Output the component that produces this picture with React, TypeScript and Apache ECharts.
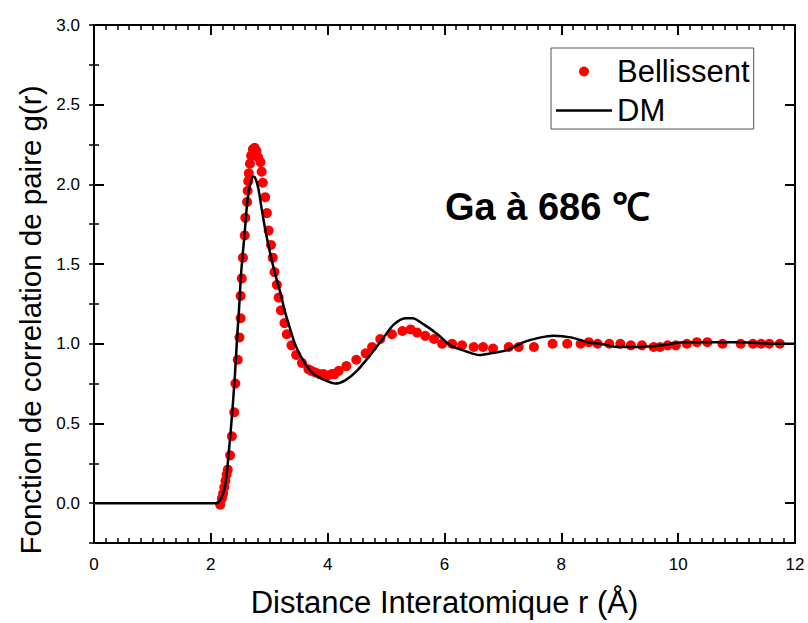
import React, { useEffect, useRef } from "react";
import * as echarts from "echarts";

const bellissentR = [2.16, 2.19, 2.21, 2.23, 2.25, 2.27, 2.29, 2.33, 2.36, 2.40, 2.42, 2.46, 2.49, 2.51, 2.51, 2.53, 2.55, 2.58, 2.59, 2.62, 2.63, 2.64, 2.65, 2.67, 2.69, 2.72, 2.75, 2.78, 2.81, 2.85, 2.87, 2.89, 2.93, 2.96, 2.99, 3.03, 3.06, 3.09, 3.13, 3.16, 3.20, 3.26, 3.30, 3.38, 3.46, 3.56, 3.67, 3.72, 3.79, 3.86, 3.93, 4.00, 4.07, 4.12, 4.19, 4.32, 4.49, 4.65, 4.76, 4.90, 5.10, 5.28, 5.42, 5.53, 5.67, 5.82, 5.96, 6.13, 6.30, 6.50, 6.66, 6.83, 7.10, 7.27, 7.53, 7.85, 8.10, 8.33, 8.47, 8.62, 8.82, 9.01, 9.19, 9.38, 9.58, 9.69, 9.82, 9.96, 10.15, 10.32, 10.50, 10.76, 11.07, 11.28, 11.42, 11.56, 11.74];
const bellissentG = [-0.01, 0.03, 0.06, 0.10, 0.14, 0.18, 0.21, 0.30, 0.42, 0.57, 0.75, 0.90, 1.04, 1.16, 1.30, 1.41, 1.54, 1.68, 1.79, 1.89, 1.96, 2.02, 2.07, 2.13, 2.18, 2.22, 2.23, 2.21, 2.17, 2.14, 2.08, 2.01, 1.92, 1.82, 1.71, 1.62, 1.54, 1.45, 1.37, 1.29, 1.21, 1.13, 1.06, 0.99, 0.93, 0.88, 0.84, 0.83, 0.82, 0.81, 0.81, 0.80, 0.81, 0.81, 0.83, 0.86, 0.90, 0.94, 0.98, 1.03, 1.06, 1.08, 1.09, 1.07, 1.05, 1.03, 1.00, 1.00, 0.99, 0.98, 0.98, 0.97, 0.98, 0.98, 0.98, 1.00, 1.00, 1.00, 1.01, 1.00, 1.00, 1.00, 0.99, 0.99, 0.98, 0.98, 0.99, 0.99, 1.00, 1.01, 1.01, 1.00, 1.00, 1.00, 1.00, 1.00, 1.00];

const dmR = [0, 2.10, 2.16, 2.20, 2.25, 2.30, 2.36, 2.41, 2.45, 2.48, 2.52, 2.58, 2.63, 2.68, 2.72, 2.76, 2.81, 2.86, 2.93, 3.02, 3.10, 3.19, 3.27, 3.36, 3.45, 3.59, 3.76, 3.96, 4.13, 4.30, 4.50, 4.73, 4.96, 5.13, 5.33, 5.45, 5.65, 5.88, 6.10, 6.39, 6.59, 6.79, 7.07, 7.36, 7.65, 7.87, 8.16, 8.45, 8.67, 8.96, 9.36, 9.70, 10.10, 10.50, 11.07, 11.65, 12.0];
const dmG = [0, 0, 0.02, 0.05, 0.12, 0.29, 0.54, 0.79, 1.04, 1.20, 1.45, 1.70, 1.91, 2.01, 2.05, 2.04, 1.98, 1.87, 1.72, 1.56, 1.44, 1.32, 1.20, 1.09, 0.99, 0.89, 0.81, 0.77, 0.75, 0.77, 0.83, 0.93, 1.04, 1.12, 1.16, 1.16, 1.12, 1.06, 0.99, 0.95, 0.93, 0.94, 0.96, 1.01, 1.04, 1.05, 1.04, 1.01, 1.00, 0.98, 0.98, 0.99, 1.01, 1.01, 1.01, 1.00, 1.00];

const xTitle = "Distance Interatomique r (Å)";
const yTitle = "Fonction de correlation de paire g(r)";
const annotation = "Ga à 686 ℃";
const seriesNames = ["Bellissent", "DM"];

const FONT = "'Liberation Sans', Arial, sans-serif";

export default function App() {
  const ref = useRef<HTMLDivElement>(null);
  useEffect(() => {
    if (!ref.current) return;
    const chart = echarts.init(ref.current, null, { renderer: "svg" });
    const axisCommon = {
      type: "value",
      splitLine: { show: false },
    };
    const xBase = {
      ...axisCommon,
      min: 0,
      max: 12,
      interval: 2,
      axisLine: { show: true, onZero: false, lineStyle: { color: "#000", width: 2 } },
      axisTick: { show: true, inside: true, length: 10, lineStyle: { color: "#000", width: 2 } },
      minorTick: { show: true, splitNumber: 10, length: 5, lineStyle: { color: "#000", width: 1.5 } },
    };
    const yMajor = {
      ...axisCommon,
      min: -0.25,
      max: 3,
      splitNumber: 6,
      axisLine: { show: true, onZero: false, lineStyle: { color: "#000", width: 2 } },
      axisTick: { show: true, inside: true, length: 10, lineStyle: { color: "#000", width: 2 } },
    };
    const yMinor = {
      ...axisCommon,
      min: -0.25,
      max: 3,
      interval: 0.25,
      axisLine: { show: false },
      axisLabel: { show: false },
      axisTick: { show: true, inside: true, length: 5, lineStyle: { color: "#000", width: 1.5 } },
    };
    chart.setOption({
      animation: false,
      backgroundColor: "#fff",
      textStyle: { fontFamily: FONT },
      grid: { left: 94, right: 13, top: 25, bottom: 77, containLabel: false },
      legend: {
        orient: "vertical",
        left: 551,
        top: 48,
        padding: [8, 4, 3, 5],
        itemWidth: 56,
        itemHeight: 10,
        itemGap: 8,
        borderColor: "#555",
        borderWidth: 1,
        textStyle: { fontSize: 31, color: "#000", fontFamily: FONT, lineHeight: 30 },
        data: [
          { name: seriesNames[0], icon: "circle" },
          { name: seriesNames[1], icon: "path://M0,0 L56,0 L56,2.5 L0,2.5 Z" },
        ],
      },
      xAxis: [
        {
          ...xBase,
          position: "bottom",
          axisLabel: { show: true, fontSize: 17, color: "#000", margin: 13, fontFamily: FONT },
          name: xTitle,
          nameLocation: "middle",
          nameGap: 44,
          nameTextStyle: { fontSize: 31, color: "#000", fontFamily: FONT },
        },
        {
          ...xBase,
          position: "top",
          axisLabel: { show: false },
        },
      ],
      yAxis: [
        {
          ...yMajor,
          position: "left",
          axisLabel: {
            show: true,
            fontSize: 17,
            color: "#000",
            margin: 14,
            fontFamily: FONT,
            formatter: (v: number) => (v < -0.01 ? "" : v.toFixed(1)),
          },
          name: yTitle,
          nameLocation: "middle",
          nameGap: 48,
          nameTextStyle: { fontSize: 29.5, color: "#000", fontFamily: FONT, padding: [0, 72, 0, 0] },
        },
        { ...yMinor, position: "left" },
        { ...yMajor, position: "right", axisLabel: { show: false } },
        { ...yMinor, position: "right" },
      ],
      graphic: [
        {
          type: "text",
          left: 445,
          top: 188,
          style: {
            text: annotation,
            fill: "#000",
            font: `bold 38px ${FONT}`,
          },
        },
      ],
      series: [
        {
          name: seriesNames[0],
          type: "scatter",
          xAxisIndex: 0,
          yAxisIndex: 0,
          symbol: "circle",
          symbolSize: 10,
          itemStyle: { color: "#ff0000", opacity: 1 },
          data: bellissentR.map((r, i) => [r, bellissentG[i]]),
          z: 2,
        },
        {
          name: seriesNames[1],
          type: "line",
          xAxisIndex: 0,
          yAxisIndex: 0,
          showSymbol: false,
          symbol: "none",
          smooth: 0.3,
          lineStyle: { color: "#000", width: 2.5 },
          itemStyle: { color: "#000" },
          data: dmR.map((r, i) => [r, dmG[i]]),
          z: 3,
        },
      ],
    });
    return () => chart.dispose();
  }, []);
  return (
    <div
      ref={ref}
      style={{ position: "fixed", left: 0, top: 0, width: 808, height: 623, background: "#fff" }}
    />
  );
}
